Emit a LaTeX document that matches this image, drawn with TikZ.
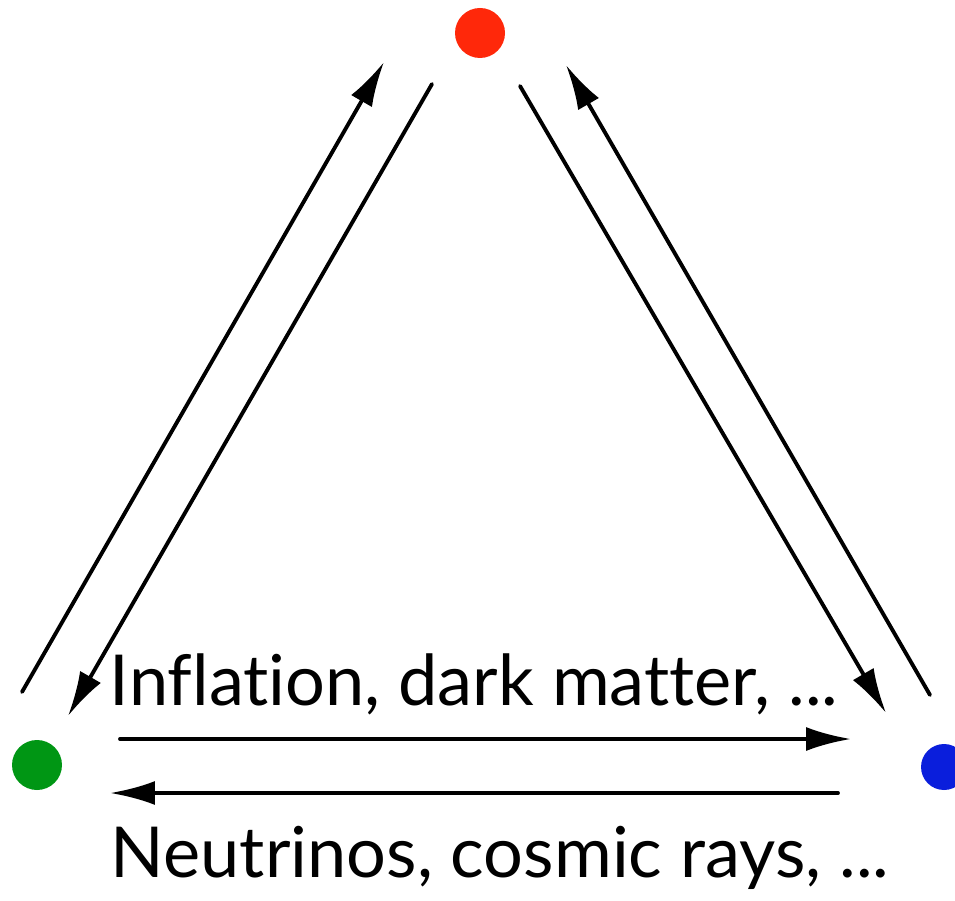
\documentclass[tikz,border=0pt]{standalone}
\usepackage{fontspec}
\setmainfont{Lato}[Ligatures=NoCommon]
\usetikzlibrary{arrows.meta}

\begin{document}
\begin{tikzpicture}[
    x=0.02cm,
    y=-0.02cm,
    line cap=round,
    line join=round,
    dot/.style={
        circle,
        inner sep=0pt,
        minimum size=1cm
    },
    flow/.style={
        line width=2.2pt,
        -{Latex[length=0.9cm,width=0.48cm]}
    },
    caption/.style={
        anchor=base,
        font=\fontsize{40}{48}\selectfont,
        inner sep=0pt
    }
]
    % Canvas
    \useasboundingbox (0,0) rectangle (955,901);

    % Colour dots
    \node[dot, fill={rgb,255:red,255;green,40;blue,10}] (red) at (480,33) {};
    \node[dot, fill={rgb,255:red,0;green,150;blue,20}] (green) at (37,765) {};
    \node[dot, fill={rgb,255:red,10;green,30;blue,220}, minimum size=0.92cm] (blue) at (944,767) {};

    % Arrow end points
    \coordinate (gUp)    at (22,692);
    \coordinate (rUpL)   at (384,62);
    \coordinate (rDnL)   at (432,84);
    \coordinate (gDn)    at (68,716);
    \coordinate (rDnR)   at (520,86);
    \coordinate (bDn)    at (886,713);
    \coordinate (bUp)    at (930,695);
    \coordinate (rUpR)   at (566,65);
    \coordinate (gRight) at (120,739);
    \coordinate (bRight) at (851,739);
    \coordinate (bLeft)  at (838,793);
    \coordinate (gLeft)  at (110,793);

    % Arrows
    \draw[flow] (gUp) -- (rUpL);
    \draw[flow] (rDnL) -- (gDn);
    \draw[flow] (rDnR) -- (bDn);
    \draw[flow] (bUp) -- (rUpR);
    \draw[flow] (gRight) -- (bRight);
    \draw[flow] (bLeft) -- (gLeft);

    % Labels
    \node[caption] (top) at (474,705) {Inflation, dark matter, ...};
    \node[caption] (bottom) at (500,877) {Neutrinos, cosmic rays, ...};
\end{tikzpicture}
\end{document}
